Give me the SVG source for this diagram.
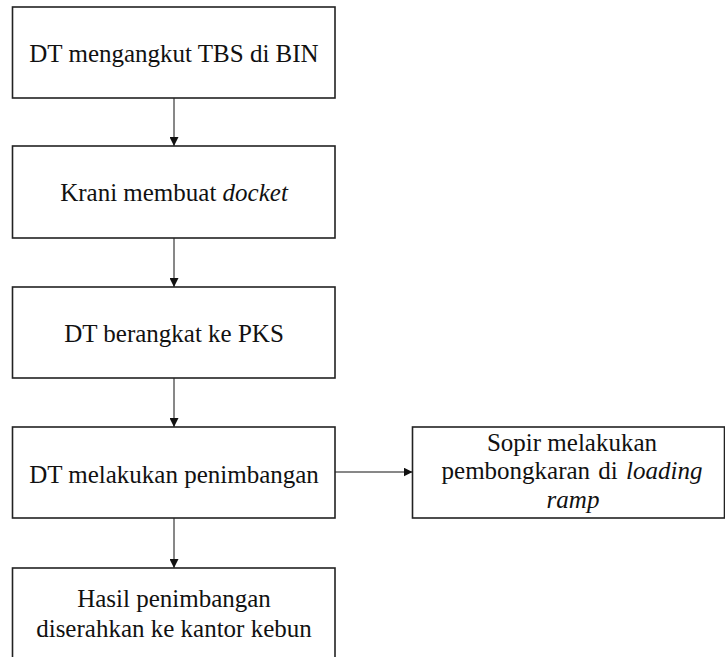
<svg xmlns="http://www.w3.org/2000/svg" width="725" height="657" viewBox="0 0 725 657">
<style>
.box{fill:#fff;stroke:#222;stroke-width:1.6}
.t{font-family:'Liberation Serif','Times New Roman',Tinos,'DejaVu Serif',serif;font-size:25px;fill:#111;text-anchor:middle}
.i{font-style:italic}
.c{stroke:#111;stroke-width:1;fill:none}
</style>
<defs>
<marker id="ah" viewBox="0 0 10 10" refX="10" refY="5" markerWidth="9" markerHeight="9" markerUnits="userSpaceOnUse" orient="auto">
<path d="M0,0 L10,5 L0,10 Z" fill="#111"/>
</marker>
</defs>
<rect width="725" height="657" fill="#fff"/>
<g id="connectors">
<line class="c" x1="174" y1="98" x2="174" y2="146" marker-end="url(#ah)"/>
<line class="c" x1="174" y1="238" x2="174" y2="287" marker-end="url(#ah)"/>
<line class="c" x1="174" y1="378" x2="174" y2="427" marker-end="url(#ah)"/>
<line class="c" x1="335" y1="472" x2="412.5" y2="472" marker-end="url(#ah)"/>
<line class="c" x1="174" y1="518" x2="174" y2="568" marker-end="url(#ah)"/>
</g>
<g id="n1">
<rect class="box" x="12.5" y="7" width="322.5" height="91"/>
<text class="t" x="174" y="62">DT mengangkut TBS di BIN</text>
</g>
<g id="n2">
<rect class="box" x="12.5" y="146" width="322.5" height="92"/>
<text class="t" x="174" y="201">Krani membuat <tspan class="i">docket</tspan></text>
</g>
<g id="n3">
<rect class="box" x="12.5" y="287" width="322.5" height="91"/>
<text class="t" x="174" y="342">DT berangkat ke PKS</text>
</g>
<g id="n4">
<rect class="box" x="12.5" y="427" width="322.5" height="91"/>
<text class="t" x="174" y="483">DT melakukan penimbangan</text>
</g>
<g id="n5">
<rect class="box" x="412.5" y="427" width="312" height="91"/>
<text class="t" x="572" y="451">Sopir melakukan</text>
<text class="t" x="572" y="479" word-spacing="2">pembongkaran di <tspan class="i">loading</tspan></text>
<text class="t" x="573" y="508" font-style="italic">ramp</text>
</g>
<g id="n6">
<rect class="box" x="12.5" y="568" width="322.5" height="100"/>
<text class="t" x="174" y="607">Hasil penimbangan</text>
<text class="t" x="174" y="637">diserahkan ke kantor kebun</text>
</g>
</svg>
